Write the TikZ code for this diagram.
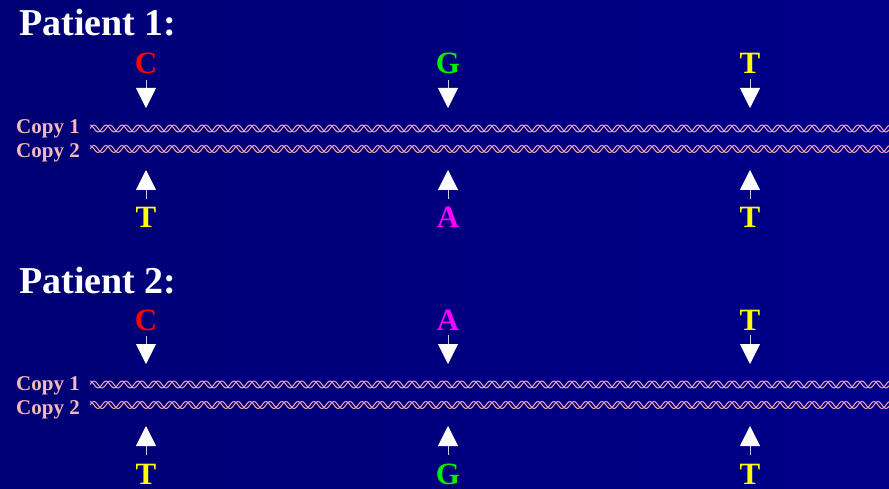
\documentclass[tikz,border=0pt]{standalone}
\usepackage{fontspec}
\setmainfont{Liberation Serif}
\usetikzlibrary{arrows.meta}

\definecolor{navyleft}{RGB}{0,0,116}
\definecolor{navyright}{RGB}{0,0,138}
\definecolor{copypink}{RGB}{244,186,190}
\definecolor{strandpink}{RGB}{236,168,178}
\definecolor{pointergrey}{RGB}{205,205,225}
\definecolor{alleleA}{RGB}{255,0,255}
\definecolor{alleleC}{RGB}{255,0,0}
\definecolor{alleleG}{RGB}{0,240,0}
\definecolor{alleleT}{RGB}{255,255,0}

\tikzset{
  patient/.style={text=white, font=\bfseries\fontsize{38}{38}\selectfont, inner sep=0pt, anchor=base west},
  allele/.style={font=\bfseries\fontsize{31}{31}\selectfont, inner sep=0pt, anchor=base},
  copylabel/.style={text=copypink, font=\bfseries\fontsize{21}{21}\selectfont, inner sep=0pt, anchor=base east},
  strand/.style={draw=strandpink, line width=1pt},
  pointer/.style={draw=pointergrey, line width=1pt, -{Triangle[length=20pt,width=20pt,color=white]}}
}

\begin{document}
\begin{tikzpicture}[x=1pt, y=-1pt]
\useasboundingbox (0,0) rectangle (889,489);
\shade[left color=navyleft, right color=navyright] (0,0) rectangle (889,489);

% patient 1
\begin{scope}
        \node[patient] (pat1) at (19,36) {Patient 1:};
        \node[allele, text=alleleC] (p1up1) at (146,74) {C};
        \node[allele, text=alleleG] (p1up2) at (448,74) {G};
        \node[allele, text=alleleT] (p1up3) at (750,74) {T};
        \node[allele, text=alleleT] (p1dn1) at (146,228) {T};
        \node[allele, text=alleleA] (p1dn2) at (448,228) {A};
        \node[allele, text=alleleT] (p1dn3) at (750,228) {T};
        \node[copylabel] (p1copy1) at (80,134) {Copy 1};
        \node[copylabel] (p1copy2) at (80,158) {Copy 2};
        \foreach \y in {128.5,149}
            \foreach \d in {0,4}
                \draw[strand] plot[domain=90:889, samples=500] (\x, {\y-3.5*sin(mod(\x-90+\d,16)*22.5)});
        \foreach \i/\x in {1/146, 2/448, 3/750} {
            \coordinate (p1tip\i) at (\x,108);
            \coordinate (p1tipb\i) at (\x,170);
            \draw[pointer, shorten <=5pt] (p1up\i) -- (p1tip\i);
            \draw[pointer, shorten <=8.5pt] (p1dn\i) -- (p1tipb\i);
        }
\end{scope}

% patient 2
\begin{scope}[shift={(0,256)}]
        \node[patient] (pat2) at (19,38) {Patient 2:};
        \node[allele, text=alleleC] (p2up1) at (146,74) {C};
        \node[allele, text=alleleA] (p2up2) at (448,74) {A};
        \node[allele, text=alleleT] (p2up3) at (750,74) {T};
        \node[allele, text=alleleT] (p2dn1) at (146,228) {T};
        \node[allele, text=alleleG] (p2dn2) at (448,228) {G};
        \node[allele, text=alleleT] (p2dn3) at (750,228) {T};
        \node[copylabel] (p2copy1) at (80,134) {Copy 1};
        \node[copylabel] (p2copy2) at (80,158) {Copy 2};
        \foreach \y in {128.5,149}
            \foreach \d in {0,4}
                \draw[strand] plot[domain=90:889, samples=500] (\x, {\y-3.5*sin(mod(\x-90+\d,16)*22.5)});
        \foreach \i/\x in {1/146, 2/448, 3/750} {
            \coordinate (p2tip\i) at (\x,108);
            \coordinate (p2tipb\i) at (\x,170);
            \draw[pointer, shorten <=5pt] (p2up\i) -- (p2tip\i);
            \draw[pointer, shorten <=8.5pt] (p2dn\i) -- (p2tipb\i);
        }
\end{scope}
\end{tikzpicture}
\end{document}
